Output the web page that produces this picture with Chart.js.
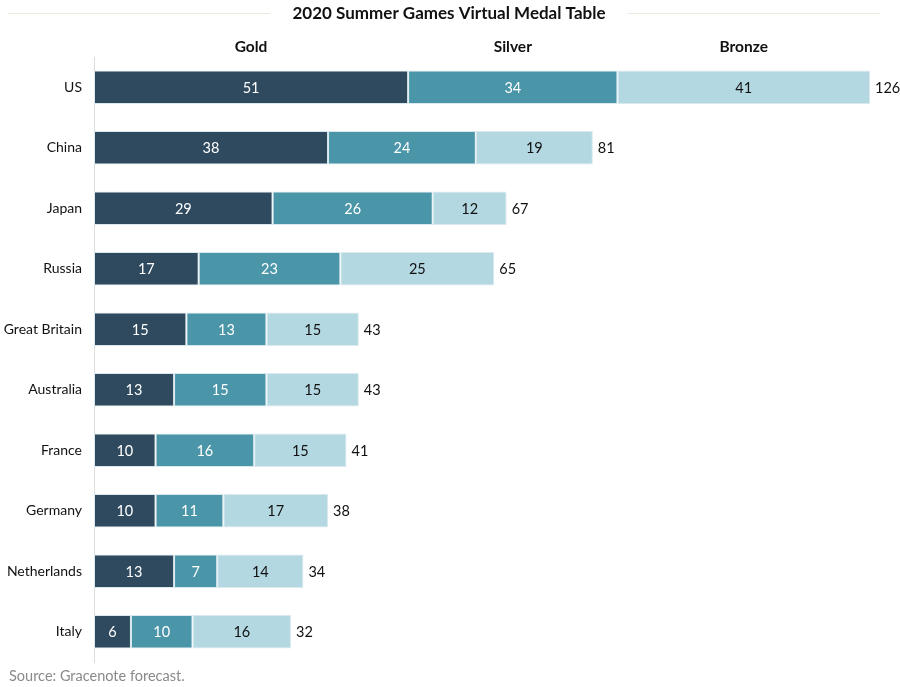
<!DOCTYPE html>
<html>
<head>
<meta charset="utf-8">
<script src="https://cdn.jsdelivr.net/npm/chart.js@4"></script>
<style>
html,body{margin:0;padding:0;background:#fff;}
#wrap{width:900px;height:687px;position:relative;}
</style>
</head>
<body>
<div id="wrap"><canvas id="c"></canvas></div>
<script>
const countries = ["US","China","Japan","Russia","Great Britain","Australia","France","Germany","Netherlands","Italy"];
const gold   = [51,38,29,17,15,13,10,10,13,6];
const silver = [34,24,26,23,13,15,16,11,7,10];
const bronze = [41,19,12,25,15,15,15,17,14,16];
const totals = [126,81,67,65,43,43,41,38,34,32];
const seriesNames = ["Gold","Silver","Bronze"];
const titleText = "2020 Summer Games Virtual Medal Table";
const sourceText = "Source: Gracenote forecast.";

const FONT = "Lato, 'Open Sans', sans-serif";
const colors = ["#2f4a5e","#4a95a8","#b3d8e2"];
const labelColors = ["#ffffff","#ffffff","#111111"];

const overlay = {
  id: 'overlay',
  afterDatasetsDraw(chart) {
    const ctx = chart.ctx;
    const xs = chart.scales.x;
    ctx.save();
    chart.data.datasets.forEach((ds, di) => {
      const meta = chart.getDatasetMeta(di);
      meta.data.forEach((bar, i) => {
        const left = Math.min(bar.base, bar.x), right = Math.max(bar.base, bar.x);
        ctx.fillStyle = labelColors[di];
        ctx.font = "14.5px " + FONT;
        ctx.textAlign = "center";
        ctx.textBaseline = "middle";
        ctx.fillText(String(ds.data[i]), (left + right) / 2, bar.y + 1);
      });
    });
    const lastMeta = chart.getDatasetMeta(2);
    lastMeta.data.forEach((bar, i) => {
      ctx.fillStyle = "#111";
      ctx.font = "14.5px " + FONT;
      ctx.textAlign = "left";
      ctx.textBaseline = "middle";
      ctx.fillText(String(totals[i]), xs.getPixelForValue(totals[i]) + 5, bar.y + 1);
    });
    let cum = 0;
    const firstVals = [gold[0], silver[0], bronze[0]];
    ctx.font = "bold 15.5px " + FONT;
    ctx.fillStyle = "#111";
    ctx.textAlign = "center";
    ctx.textBaseline = "middle";
    firstVals.forEach((v, k) => {
      const cx = (xs.getPixelForValue(cum) + xs.getPixelForValue(cum + v)) / 2;
      ctx.fillText(seriesNames[k], cx, 47);
      cum += v;
    });
    ctx.font = "bold 17px " + FONT;
    const tw = ctx.measureText(titleText).width;
    const tx = 449;
    ctx.fillText(titleText, tx, 14);
    ctx.strokeStyle = "#ece9df";
    ctx.lineWidth = 1;
    ctx.beginPath();
    ctx.moveTo(8, 13.5); ctx.lineTo(tx - tw / 2 - 22, 13.5);
    ctx.moveTo(tx + tw / 2 + 22, 13.5); ctx.lineTo(880, 13.5);
    ctx.stroke();
    ctx.font = "14.5px " + FONT;
    ctx.fillStyle = "#8a8a8a";
    ctx.textAlign = "left";
    ctx.fillText(sourceText, 9, 676);
    ctx.restore();
  }
};

new Chart(document.getElementById('c'), {
  type: 'bar',
  data: {
    labels: countries,
    datasets: [gold, silver, bronze].map((d, k) => ({
      label: seriesNames[k],
      data: d,
      backgroundColor: colors[k],
      borderColor: "#d9e9ee",
      borderWidth: 1,
      borderSkipped: false,
      barPercentage: 0.55,
      categoryPercentage: 1.0
    }))
  },
  options: {
    indexAxis: 'y',
    responsive: true,
    maintainAspectRatio: false,
    animation: false,
    layout: { padding: { top: 57, bottom: 25, right: 30, left: 0 } },
    plugins: { legend: { display: false }, tooltip: { enabled: false }, title: { display: false } },
    scales: {
      x: { stacked: true, min: 0, max: 126, display: false },
      y: {
        stacked: true,
        grid: { display: false, drawTicks: false },
        border: { display: true, color: "#dddddd", width: 1 },
        ticks: { color: "#111", font: { size: 14, family: FONT }, padding: 12 },
        afterFit(scale) { scale.width = 94; }
      }
    }
  },
  plugins: [overlay]
});
</script>
</body>
</html>
